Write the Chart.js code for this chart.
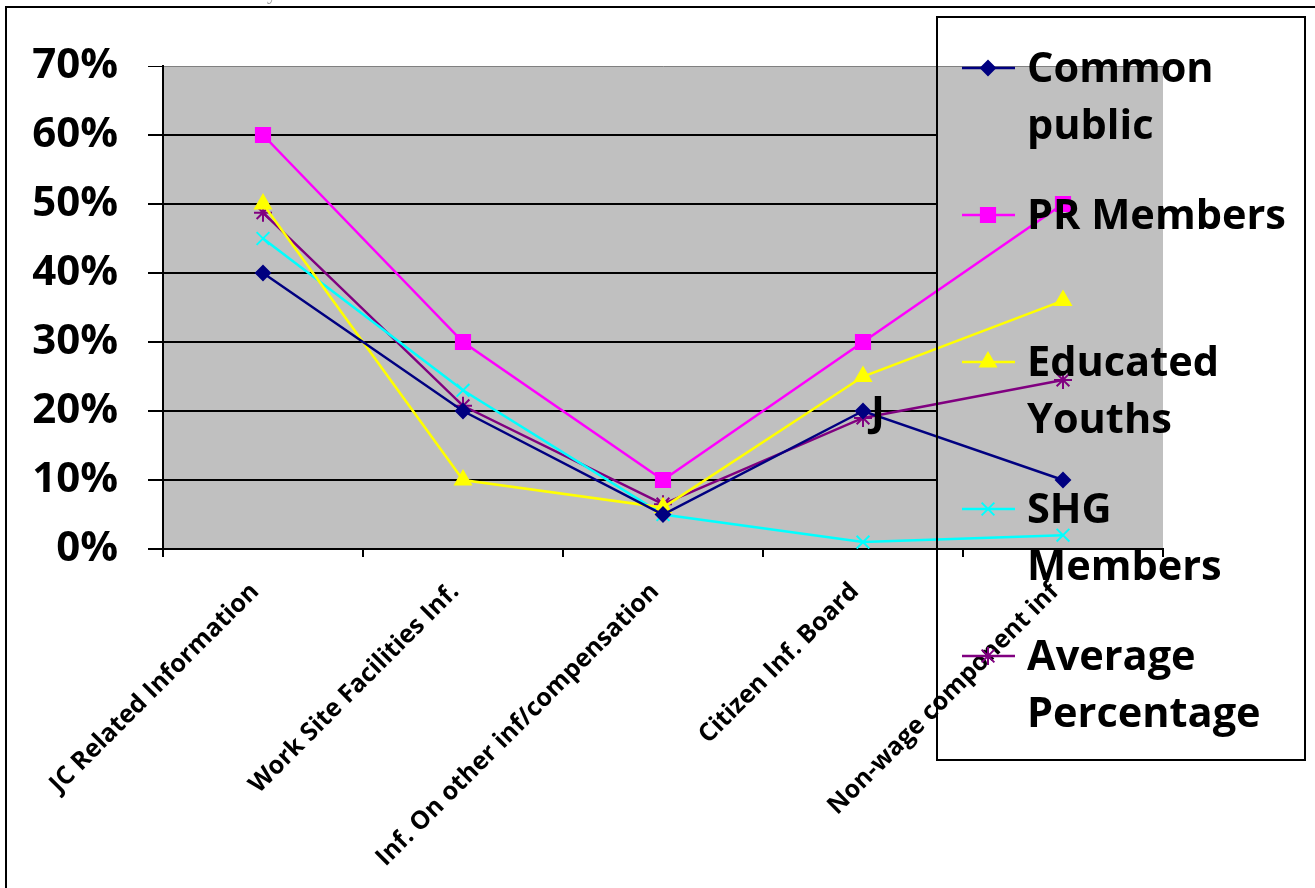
<!DOCTYPE html>
<html><head><meta charset="utf-8">
<script src="https://cdn.jsdelivr.net/npm/chart.js@4"></script>
<style>html,body{margin:0;padding:0;background:#fff;overflow:hidden}#wrap{position:relative;width:1315px;height:888px}</style>
</head><body><div id="wrap"><canvas id="c" width="1315" height="888"></canvas></div>
<script>
const categories = ["JC Related Information","Work Site Facilities Inf.","Inf. On other inf/compensation","Citizen Inf. Board","Non-wage component inf"];
const commonPublic = [40, 20, 5, 20, 10];
const prMembers = [60, 30, 10, 30, 50];
const educatedYouths = [50, 10, 6, 25, 36];
const shgMembers = [45, 23, 5, 1, 2];
const averagePercentage = [48.75, 20.75, 6.5, 19, 24.5];
const seriesNames = ["Common public", "PR Members", "Educated Youths", "SHG Members", "Average Percentage"];
const yTickValues = [0, 10, 20, 30, 40, 50, 60, 70];

const FONT = "'Open Sans', 'DejaVu Sans', sans-serif";

function ds(label, data, color, style, radius) {
  return {
    label, data,
    borderColor: color, backgroundColor: color,
    pointBackgroundColor: color, pointBorderColor: color,
    pointStyle: style, pointRadius: radius, pointHoverRadius: radius,
    pointBorderWidth: 2, borderWidth: 2.5, tension: 0, fill: false
  };
}

const datasets = [
  ds(seriesNames[0], commonPublic, '#000080', 'rectRot', 7),
  ds(seriesNames[1], prMembers, '#FF00FF', 'rect', 10),
  ds(seriesNames[2], educatedYouths, '#FFFF00', 'triangle', 9),
  ds(seriesNames[3], shgMembers, '#00FFFF', 'crossRot', 9),
  ds(seriesNames[4], averagePercentage, '#800080', 'star', 9)
];

const L = {left: 163, right: 1163, top: 66, bottom: 549};
const LEG = {x: 937, y: 17, w: 368, h: 743};

const decor = {
  id: 'decor',
  beforeDraw(chart) {
    const ctx = chart.ctx, a = chart.chartArea;
    ctx.save();
    ctx.fillStyle = '#fff';
    ctx.fillRect(0, 0, chart.width, chart.height);
    // stray caption fragment at very top
    ctx.fillStyle = '#9a9a9a';
    ctx.font = "20px 'Liberation Serif', serif";
    ctx.textAlign = 'right'; ctx.textBaseline = 'alphabetic';
    ctx.fillText('Annually', 277, -1);
    // outer frame
    ctx.strokeStyle = '#000'; ctx.lineWidth = 2;
    ctx.strokeRect(6, 7, 1400, 1000);
    // plot area
    ctx.fillStyle = '#C0C0C0';
    ctx.fillRect(a.left, a.top, a.right - a.left, a.bottom - a.top);
    ctx.restore();
  },
  beforeDatasetsDraw(chart) {
    const ctx = chart.ctx, a = chart.chartArea;
    ctx.save();
    ctx.fillStyle = '#C0C0C0';
    ctx.fillRect(LEG.x + 1, a.top + 1, a.right - LEG.x - 1, a.bottom - a.top - 2);
    ctx.restore();
  },
  afterDraw(chart) {
    const ctx = chart.ctx;
    ctx.save();
    // stray "J" label
    ctx.fillStyle = '#000';
    ctx.font = "bold 42px " + FONT;
    ctx.textAlign = 'left'; ctx.textBaseline = 'middle';
    ctx.fillText('J', 871, 414);
    // legend box
    ctx.strokeStyle = '#000'; ctx.lineWidth = 2;
    ctx.strokeRect(LEG.x, LEG.y, LEG.w, LEG.h);
    ctx.font = "bold 41.5px " + FONT;
    const maxW = 270;
    chart.data.datasets.forEach((d, i) => {
      const y0 = 68 + i * 147;
      ctx.strokeStyle = d.borderColor; ctx.lineWidth = 2.5;
      ctx.beginPath(); ctx.moveTo(962, y0); ctx.lineTo(1015, y0); ctx.stroke();
      ctx.fillStyle = d.backgroundColor; ctx.strokeStyle = d.borderColor; ctx.lineWidth = 2;
      Chart.helpers.drawPoint(ctx, {pointStyle: d.pointStyle, radius: d.pointRadius, borderWidth: 2, rotation: 0}, 988, y0);
      const words = d.label.split(' ');
      const lines = []; let cur = '';
      words.forEach(w => {
        const t = cur ? cur + ' ' + w : w;
        if (ctx.measureText(t).width > maxW && cur) { lines.push(cur); cur = w; } else cur = t;
      });
      lines.push(cur);
      ctx.fillStyle = '#000';
      ctx.textAlign = 'left'; ctx.textBaseline = 'middle';
      lines.forEach((ln, k) => ctx.fillText(ln, 1027, y0 + 2 + k * 57));
    });
    ctx.restore();
  }
};

new Chart(document.getElementById('c'), {
  type: 'line',
  data: {labels: categories, datasets},
  options: {
    responsive: false, animation: false, devicePixelRatio: 1,
    layout: {padding: {top: L.top, right: 1315 - L.right, bottom: 0, left: 0}},
    plugins: {legend: {display: false}, tooltip: {enabled: false}},
    scales: {
      x: {
        offset: true,
        grid: {display: true, drawOnChartArea: false, drawTicks: true, tickLength: 8, color: '#000', lineWidth: 2, offset: true},
        border: {display: true, color: '#000', width: 2},
        ticks: {color: '#000', font: {family: FONT, weight: 'bold', size: 25}, minRotation: 45, maxRotation: 45, autoSkip: false, padding: 20, labelOffset: -8},
        afterFit(s) { s.height = 888 - L.bottom; }
      },
      y: {
        min: 0, max: 70,
        afterBuildTicks(s) { s.ticks = yTickValues.map(v => ({value: v})); },
        grid: {color: c => (c.tick && c.tick.value === 70) ? '#808080' : '#000', lineWidth: c => (c.tick && c.tick.value === 70) ? 1 : 2, tickColor: '#000', tickLength: 15, drawTicks: true},
        border: {display: true, color: '#000', width: 2},
        ticks: {color: '#000', font: {family: FONT, weight: 'bold', size: 42}, padding: 30, callback: v => v + '%'},
        afterFit(s) { s.width = L.left; }
      }
    }
  },
  plugins: [decor]
});
</script></body></html>
